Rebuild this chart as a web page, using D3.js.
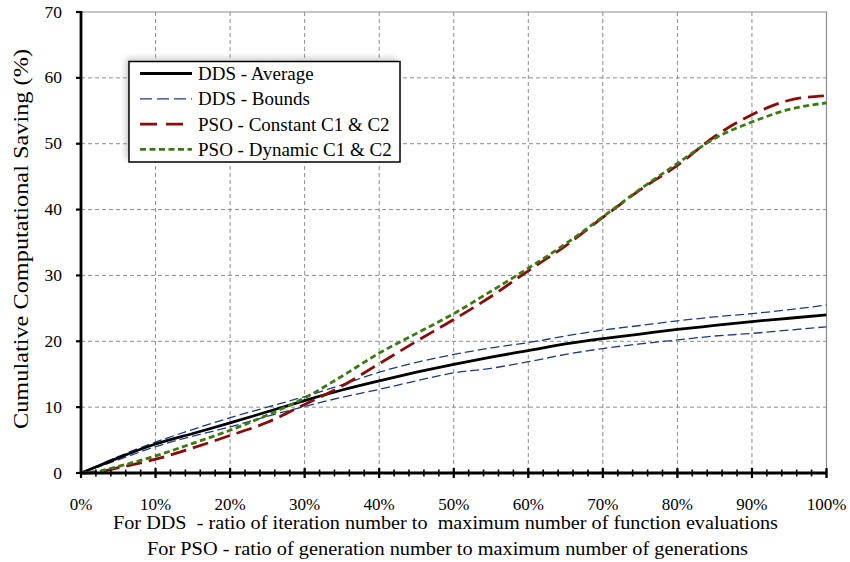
<!DOCTYPE html>
<html>
<head>
<meta charset="utf-8">
<script src="https://cdn.jsdelivr.net/npm/d3@7/dist/d3.min.js"></script>
<style>
  html, body { margin: 0; padding: 0; background: #fff; }
  svg { display: block; }
</style>
</head>
<body>
<svg id="chart" width="850" height="562"></svg>
<script>
// Progress (% of run) at which each series is sampled
const progress = [0, 2, 5, 10, 15, 20, 25, 30, 35, 40, 45, 50, 55, 60, 65, 70, 75, 80, 85, 90, 95, 100];

// Cumulative computational saving (%)
const ddsAverage = [0, 0.9, 2.3, 4.4, 6.0, 7.6, 9.3, 11.0, 12.6, 14.0, 15.3, 16.5, 17.6, 18.6, 19.6, 20.4, 21.1, 21.8, 22.4, 23.0, 23.5, 24.0];
const ddsUpper   = [0, 1.0, 2.5, 4.7, 6.6, 8.4, 10.0, 11.6, 13.4, 15.3, 16.8, 18.0, 19.0, 19.8, 20.8, 21.7, 22.4, 23.1, 23.7, 24.2, 24.8, 25.5];
const ddsLower   = [0, 0.8, 2.0, 4.0, 5.6, 7.0, 8.6, 10.1, 11.5, 12.7, 14.0, 15.2, 15.9, 16.9, 18.0, 18.9, 19.6, 20.2, 20.8, 21.2, 21.7, 22.2];
const psoConstant = [0, 0.1, 0.8, 2.1, 3.8, 5.7, 7.7, 10.4, 13.2, 16.6, 20.0, 23.3, 26.8, 30.7, 34.5, 38.8, 43.0, 46.7, 51.1, 54.4, 56.6, 57.3];
const psoDynamic  = [0, 0.2, 1.0, 2.6, 4.5, 6.5, 8.8, 11.4, 14.7, 18.2, 21.2, 24.2, 27.6, 31.1, 34.8, 38.9, 43.1, 47.0, 50.8, 53.3, 55.2, 56.2];

const xTicks = [0, 10, 20, 30, 40, 50, 60, 70, 80, 90, 100];
const yTicks = [0, 10, 20, 30, 40, 50, 60, 70];
const legendLabels = ["DDS - Average", "DDS - Bounds", "PSO - Constant C1 & C2", "PSO - Dynamic C1 & C2"];
const xTitleLines = [
  "For DDS  - ratio of iteration number to  maximum number of function evaluations",
  "For PSO - ratio of generation number to maximum number of generations"
];
const yTitle = "Cumulative Computational Saving (%)";

const FONT = "Liberation Serif";
const svg = d3.select("#chart");
const plotL = 81, plotR = 826.5, plotT = 12, plotB = 473;

const x = d3.scaleLinear().domain([0, 100]).range([plotL, plotR]);
const y = d3.scaleLinear().domain([0, 70]).range([plotB, plotT]);

// Grid
const grid = svg.append("g");
grid.selectAll("line.v").data(xTicks.slice(1, -1)).join("line")
  .attr("x1", d => x(d)).attr("x2", d => x(d))
  .attr("y1", plotT).attr("y2", plotB)
  .attr("stroke", "#8c8c8c").attr("stroke-width", 1).attr("stroke-dasharray", "4,3");
grid.selectAll("line.h").data(yTicks.slice(1, -1)).join("line")
  .attr("x1", plotL).attr("x2", plotR)
  .attr("y1", d => y(d)).attr("y2", d => y(d))
  .attr("stroke", "#8c8c8c").attr("stroke-width", 1).attr("stroke-dasharray", "4,3");
// Top and right frame
grid.append("path")
  .attr("d", `M${plotL},${plotT}H${plotR}V${plotB}`)
  .attr("fill", "none").attr("stroke", "#8c8c8c").attr("stroke-width", 1.2);

// Series
const series = [
  { values: ddsUpper,    color: "#1c3b80", width: 1.3, dash: "9,4" },
  { values: ddsLower,    color: "#1c3b80", width: 1.3, dash: "9,4" },
  { values: ddsAverage,  color: "#000000", width: 2.8, dash: null },
  { values: psoConstant, color: "#8b0a0a", width: 2.8, dash: "16,7" },
  { values: psoDynamic,  color: "#3b7a12", width: 2.8, dash: "6,3.5" }
];
const line = d3.line()
  .x((d, i) => x(progress[i]))
  .y(d => y(d))
  .curve(d3.curveMonotoneX);
svg.append("g").selectAll("path").data(series).join("path")
  .attr("d", d => line(d.values))
  .attr("fill", "none")
  .attr("stroke", d => d.color)
  .attr("stroke-width", d => d.width)
  .attr("stroke-dasharray", d => d.dash)
  .attr("stroke-linecap", "butt");

// X axis with minor ticks crossing the baseline
const xAxisG = svg.append("g");
const minor = d3.range(0, 101, 2);
xAxisG.selectAll("line.minor").data(minor).join("line")
  .attr("x1", d => x(d)).attr("x2", d => x(d))
  .attr("y1", plotB - 3.5).attr("y2", plotB + 3.5)
  .attr("stroke", "#000").attr("stroke-width", 1.6);
xAxisG.selectAll("line.major").data(xTicks).join("line")
  .attr("x1", d => x(d)).attr("x2", d => x(d))
  .attr("y1", plotB - 5).attr("y2", plotB + 5)
  .attr("stroke", "#000").attr("stroke-width", 2.2);
xAxisG.append("line")
  .attr("x1", plotL).attr("x2", plotR).attr("y1", plotB).attr("y2", plotB)
  .attr("stroke", "#000").attr("stroke-width", 2.8);
xAxisG.selectAll("text").data(xTicks).join("text")
  .attr("x", d => x(d)).attr("y", 510)
  .attr("text-anchor", "middle").attr("font-size", 17).attr("fill", "#000")
  .style("font-family", FONT)
  .text(d => d + "%");

// Y axis
const yAxisG = svg.append("g");
yAxisG.selectAll("line.tick").data(yTicks).join("line")
  .attr("x1", plotL - 5).attr("x2", plotL + 1)
  .attr("y1", d => y(d)).attr("y2", d => y(d))
  .attr("stroke", "#000").attr("stroke-width", 2.2);
yAxisG.append("line")
  .attr("x1", plotL).attr("x2", plotL).attr("y1", plotT - 1).attr("y2", plotB + 1)
  .attr("stroke", "#000").attr("stroke-width", 2.8);
yAxisG.selectAll("text").data(yTicks).join("text")
  .attr("x", 62).attr("y", d => y(d) + 5.5)
  .attr("text-anchor", "end").attr("font-size", 17.5).attr("fill", "#000")
  .style("font-family", FONT)
  .text(d => d);

// Axis titles
svg.append("text")
  .attr("transform", "translate(28,239) rotate(-90)")
  .attr("text-anchor", "middle").attr("font-size", 20.5).attr("fill", "#000")
  .attr("textLength", 380).attr("lengthAdjust", "spacingAndGlyphs")
  .style("font-family", FONT)
  .text(yTitle);
svg.selectAll("text.xt").data(xTitleLines).join("text")
  .attr("class", "xt")
  .attr("x", (d, i) => i === 0 ? 445.5 : 447.5)
  .attr("y", (d, i) => 529 + i * 26)
  .attr("text-anchor", "middle").attr("font-size", 18.5).attr("fill", "#000")
  .attr("textLength", (d, i) => i === 0 ? 665 : 601)
  .attr("lengthAdjust", "spacingAndGlyphs")
  .style("font-family", FONT)
  .style("white-space", "pre")
  .text(d => d);

// Legend
const defs = svg.append("defs");
defs.append("filter").attr("id", "shadow").attr("x", "-10%").attr("y", "-20%")
  .attr("width", "120%").attr("height", "140%")
  .append("feGaussianBlur").attr("stdDeviation", 3);
const lg = svg.append("g");
const lx = 129, ly = 61.5, lw = 271, lh = 100.5;
lg.append("rect").attr("x", lx - 3).attr("y", ly - 3).attr("width", lw).attr("height", lh)
  .attr("fill", "#9a9a9a").attr("opacity", 0.55).attr("filter", "url(#shadow)");
lg.append("rect").attr("x", lx).attr("y", ly).attr("width", lw).attr("height", lh)
  .attr("fill", "#fff").attr("stroke", "#000").attr("stroke-width", 1.5);
const legendStyles = [series[2], series[0], series[3], series[4]];
const rows = lg.selectAll("g.row").data(legendLabels).join("g")
  .attr("class", "row")
  .attr("transform", (d, i) => `translate(0,${73.5 + i * 25.3})`);
rows.append("line")
  .attr("x1", 140).attr("x2", 192).attr("y1", 0).attr("y2", 0)
  .attr("stroke", (d, i) => legendStyles[i].color)
  .attr("stroke-width", (d, i) => legendStyles[i].width)
  .attr("stroke-dasharray", (d, i) => i === 1 ? "12,5" : i === 2 ? "17,9" : legendStyles[i].dash);
rows.append("text")
  .attr("x", 198).attr("y", 6.5)
  .attr("font-size", 19).attr("fill", "#000")
  .style("font-family", FONT)
  .text(d => d);
</script>
</body>
</html>
